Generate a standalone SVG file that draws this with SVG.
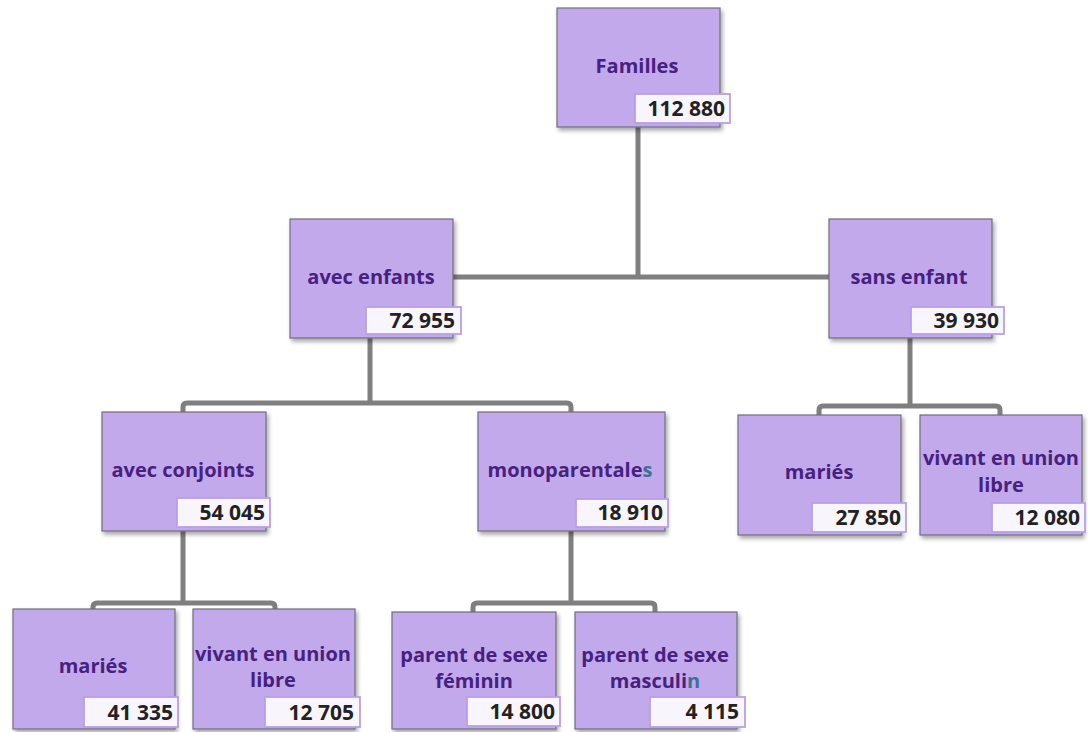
<svg xmlns="http://www.w3.org/2000/svg" width="1088" height="732" viewBox="0 0 1088 732">
<defs>
<filter id="sh" x="-10%" y="-10%" width="125%" height="130%">
<feDropShadow dx="2" dy="3" stdDeviation="2" flood-color="#000" flood-opacity="0.35"/>
</filter>
<style>
.box{fill:#C1A9EB;stroke:#6E6E7A;stroke-width:1.2;filter:url(#sh)}
.num{fill:#F8F5FD;stroke:#B99FEA;stroke-width:1.8}
.lbl{font-family:"Open Sans","Liberation Sans",sans-serif;font-weight:700;font-size:20px;fill:#472080;text-anchor:middle}
.val{font-family:"Open Sans","Liberation Sans",sans-serif;font-weight:700;font-size:21px;fill:#222;text-anchor:end}
.alt{fill:#3F6E98}
.con{fill:none;stroke:#7F7F7F;stroke-width:5;stroke-linejoin:round}
</style>
</defs>
<rect width="1088" height="732" fill="#fff"/>
<g id="connectors">
<path class="con" d="M638,127 V277 M453,277 H829"/>
<path class="con" d="M370,338 V403 M183,412 V407 Q183,403 187,403 H567 Q571,403 571,407 V412"/>
<path class="con" d="M910,338 V406 M819,415 V410 Q819,406 823,406 H996 Q1000,406 1000,410 V415"/>
<path class="con" d="M183,531 V603 M93,609 V607 Q93,603 97,603 H271 Q275,603 275,607 V609"/>
<path class="con" d="M571,531 V603 M473,612 V607 Q473,603 477,603 H651 Q655,603 655,607 V612"/>
</g>
<g id="familles">
<rect class="box" x="557" y="8" width="163" height="119"/>
<text class="lbl" x="637" y="73">Familles</text>
<rect class="num" x="635" y="94" width="95" height="29"/>
<text class="val" x="725" y="116">112 880</text>
</g>
<g id="avec-enfants">
<rect class="box" x="290" y="219" width="163" height="119"/>
<text class="lbl" x="371" y="284">avec enfants</text>
<rect class="num" x="366" y="307" width="95" height="27"/>
<text class="val" x="455" y="328">72 955</text>
</g>
<g id="sans-enfant">
<rect class="box" x="829" y="219" width="163" height="119"/>
<text class="lbl" x="909" y="284">sans enfant</text>
<rect class="num" x="911" y="307" width="93" height="27"/>
<text class="val" x="999" y="328">39 930</text>
</g>
<g id="avec-conjoints">
<rect class="box" x="102" y="412" width="164" height="119"/>
<text class="lbl" x="183" y="477">avec conjoints</text>
<rect class="num" x="177" y="498" width="93" height="29"/>
<text class="val" x="265" y="520">54 045</text>
</g>
<g id="monoparentales">
<rect class="box" x="478" y="412" width="187" height="119"/>
<text class="lbl" x="570" y="477">monoparentale<tspan class="alt">s</tspan></text>
<rect class="num" x="576" y="499" width="92" height="28"/>
<text class="val" x="663" y="520">18 910</text>
</g>
<g id="maries-sans">
<rect class="box" x="738" y="415" width="163" height="120"/>
<text class="lbl" x="819" y="479">mariés</text>
<rect class="num" x="812" y="503" width="94" height="29"/>
<text class="val" x="901" y="525">27 850</text>
</g>
<g id="union-sans">
<rect class="box" x="920" y="415" width="162" height="120"/>
<text class="lbl" x="1001" y="465">vivant en union</text>
<text class="lbl" x="1001" y="492">libre</text>
<rect class="num" x="992" y="503" width="93" height="29"/>
<text class="val" x="1080" y="525">12 080</text>
</g>
<g id="maries-conj">
<rect class="box" x="13" y="609" width="162" height="120"/>
<text class="lbl" x="93" y="673">mariés</text>
<rect class="num" x="84" y="697" width="94" height="30"/>
<text class="val" x="173" y="720">41 335</text>
</g>
<g id="union-conj">
<rect class="box" x="193" y="609" width="162" height="120"/>
<text class="lbl" x="273" y="661">vivant en union</text>
<text class="lbl" x="273" y="687">libre</text>
<rect class="num" x="265" y="697" width="95" height="30"/>
<text class="val" x="354" y="720">12 705</text>
</g>
<g id="parent-feminin">
<rect class="box" x="392" y="612" width="164" height="117"/>
<text class="lbl" x="474" y="662">parent de sexe</text>
<text class="lbl" x="474" y="688">féminin</text>
<rect class="num" x="467" y="697" width="93" height="29"/>
<text class="val" x="555" y="719">14 800</text>
</g>
<g id="parent-masculin">
<rect class="box" x="575" y="612" width="162" height="117"/>
<text class="lbl" x="655" y="662">parent de sexe</text>
<text class="lbl" x="655" y="688">masculi<tspan class="alt">n</tspan></text>
<rect class="num" x="650" y="697" width="95" height="30"/>
<text class="val" x="739" y="719">4 115</text>
</g>
</svg>
